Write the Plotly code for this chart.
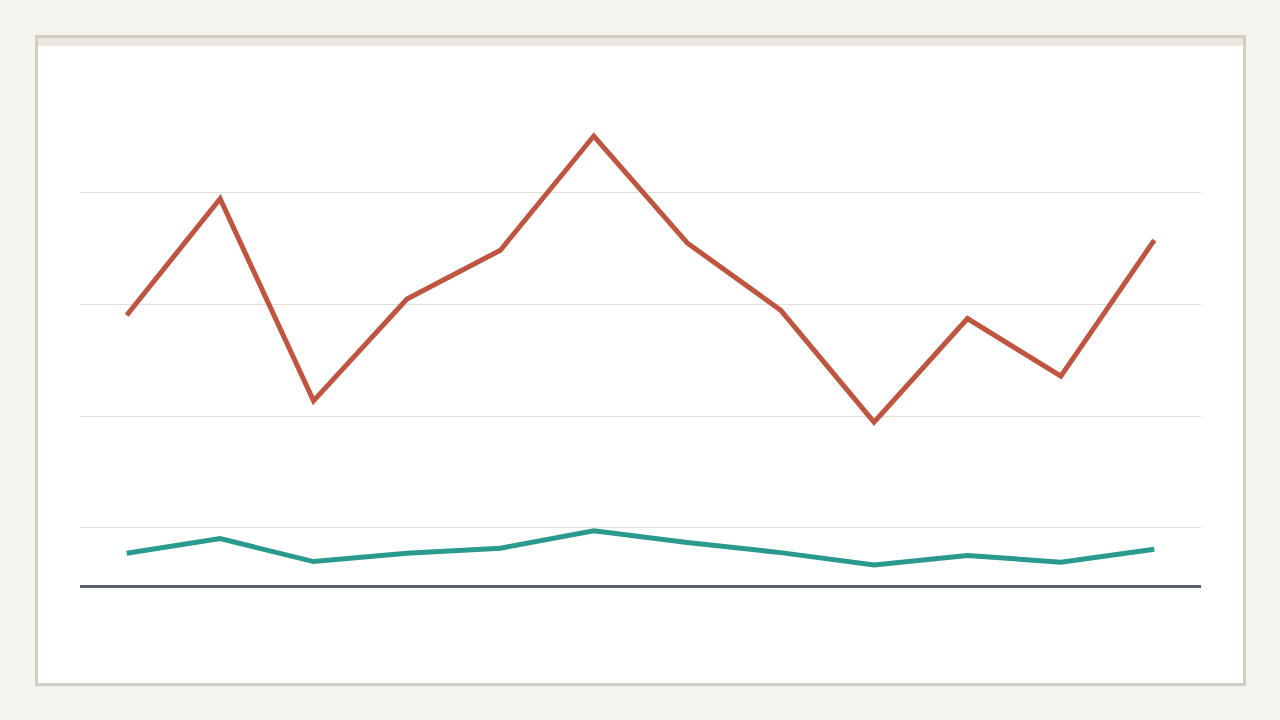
"""Two-series line chart on a card, no labels."""

import plotly.graph_objects as go

MONTHS = ["Jan", "Feb", "Mar", "Apr", "May", "Jun",
          "Jul", "Aug", "Sep", "Oct", "Nov", "Dec"]
SERIES_A = [58.0, 78.8, 42.7, 60.9, 69.6, 90.0, 70.9, 58.9, 38.9, 57.4, 47.1, 71.4]
SERIES_B = [15.5, 18.1, 14.0, 15.5, 16.4, 19.5, 17.4, 15.6, 13.4, 15.1, 13.9, 16.2]
GRID_VALUES = [20, 40, 60, 80]
Y_RANGE = [9.82, 93.93]

PAGE_BG = "#f4f3ee"
CARD_BORDER = "#d3cec3"
CARD_STRIP = "#ebe7de"
GRID_COLOR = "#e3e1d6"
BASELINE_COLOR = "#58626f"
COLOR_A = "#c0553f"
COLOR_B = "#2a9a8f"

# plot area in pixels: x 80..1201, y 114..585
PLOT_LEFT, PLOT_BOTTOM = 80, 585


def _card_rect(x0, y0, x1, y1, **kw):
    """page pixel coords -> shape anchored at the plot's bottom-left corner"""
    return dict(
        type="rect", layer="below",
        xref="paper", yref="paper", xsizemode="pixel", ysizemode="pixel",
        xanchor=0, yanchor=0,
        x0=x0 - PLOT_LEFT, x1=x1 - PLOT_LEFT,
        y0=PLOT_BOTTOM - y1, y1=PLOT_BOTTOM - y0,
        **kw,
    )


fig = go.Figure()
fig.add_trace(go.Scatter(
    x=MONTHS, y=SERIES_A, mode="lines",
    line=dict(color=COLOR_A, width=5), hoverinfo="skip",
))
fig.add_trace(go.Scatter(
    x=MONTHS, y=SERIES_B, mode="lines",
    line=dict(color=COLOR_B, width=5), hoverinfo="skip",
))

fig.update_layout(
    width=1280, height=720,
    margin=dict(l=80, r=79, t=114, b=135),
    paper_bgcolor=PAGE_BG,
    plot_bgcolor="rgba(0,0,0,0)",
    showlegend=False,
    shapes=[
        # card with border, then the thin strip along its top
        _card_rect(36.5, 36.5, 1244.5, 684.5,
                   fillcolor="white", line=dict(color=CARD_BORDER, width=3)),
        _card_rect(38, 38, 1243, 46, fillcolor=CARD_STRIP, line=dict(width=0)),
    ],
)
fig.update_xaxes(
    type="category", range=[-0.5, len(MONTHS) - 0.5],
    showgrid=False, showticklabels=False, ticks="", zeroline=False,
    showline=True, linecolor=BASELINE_COLOR, linewidth=3,
)
fig.update_yaxes(
    range=Y_RANGE, tickvals=GRID_VALUES, showticklabels=False, ticks="",
    showgrid=True, gridcolor=GRID_COLOR, gridwidth=1, zeroline=False,
)

# the page's default 8px body margin would shift the whole figure
fig.write_html(
    "out.html",
    config={"displayModeBar": False},
    post_script=(
        "document.body.style.margin='0';"
        f"document.body.style.background='{PAGE_BG}';"
    ),
)
